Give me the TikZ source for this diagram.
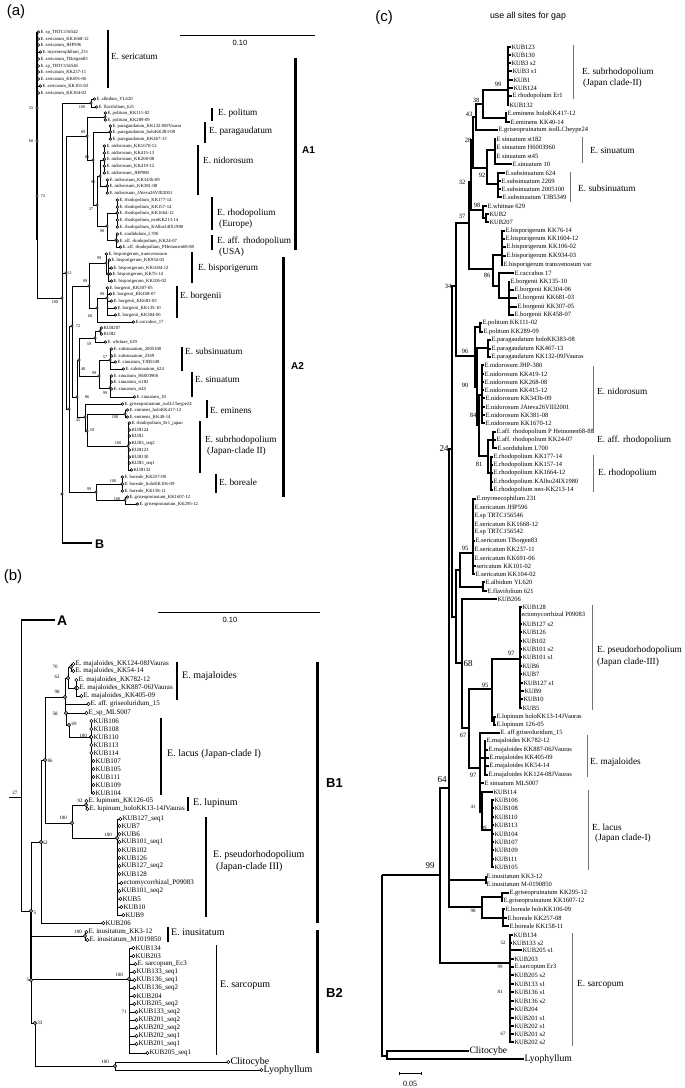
\documentclass[tikz,border=0pt]{standalone}
\usepackage{fontspec}
\setmainfont{Liberation Serif}
\setsansfont{Liberation Sans}
\newcommand\fsz[1]{\fontsize{#1}{#1}\selectfont}
\pgfdeclarelayer{fg}\pgfsetlayers{main,fg}
\tikzset{
 lfa/.style={anchor=west,inner sep=0.3pt,font=\fsz{4.7}},
 lfb/.style={anchor=west,inner sep=0.3pt,font=\fsz{7}},
 lfbig/.style={anchor=west,inner sep=0.3pt,font=\fsz{10}},
 lfc/.style={anchor=west,inner sep=0.3pt,font=\fsz{6.5}},
 bsa/.style={inner sep=0,font=\fsz{4.3}},
 bsb/.style={inner sep=0,font=\fsz{5}},
 bsc/.style={inner sep=0,font=\fsz{6.5}},
 bsd/.style={inner sep=0,font=\fsz{5}},
 bse/.style={inner sep=0,font=\fsz{9}},
 cla/.style={anchor=west,inner sep=0,font=\fsz{9.3}},
 clb/.style={anchor=west,inner sep=0,font=\fsz{10}},
 clc/.style={anchor=west,inner sep=0,font=\fsz{9.3}},
 bra/.style={line width=0.85pt},
 brc/.style={line width=1.6pt},
 dotp/.style={draw=black,fill=white,line width=0.6pt},
 cbar/.style={line width=1.1pt},
 cbarc/.style={line width=0.6pt,draw=black!55},
 gbar/.style={line width=3pt},
 plab/.style={font=\sffamily\fsz{15},inner sep=0},
 grp/.style={font=\sffamily\bfseries\fsz{10},inner sep=0,anchor=west},
 sbar/.style={line width=0.9pt},
}
\def\dotr{1.3pt}
\newcommand\EL[2]{\draw[bra] (#1) |- ([xshift=-1.6pt]#2.west);\begin{pgfonlayer}{fg}\draw[dotp] ([xshift=-1.6pt]#2.west) circle[radius=\dotr];\end{pgfonlayer}}
\newcommand\EI[2]{\draw[bra] (#1) |- (#2);\begin{pgfonlayer}{fg}\draw[dotp] (#2) circle[radius=\dotr];\end{pgfonlayer}}
\newcommand\EC[2]{\draw[brc] (#1) |- (#2);}
\newcommand\DT[1]{\begin{pgfonlayer}{fg}\draw[dotp] (#1) circle[radius=\dotr];\end{pgfonlayer}}
\begin{document}
\begin{tikzpicture}[x=1pt,y=-1pt]
\fill[white] (0,0) rectangle (685,1088);
\useasboundingbox (0,0) rectangle (685,1088);
% ================= PANEL A =================
\node[plab] (pa) at (16,12) {(a)};
\draw[sbar] (180,35) -- (315,35);
\node[inner sep=0,font=\sffamily\fsz{7.5}] (sa) at (240,43) {0.10};
% leaves
\node[lfa] (aS1) at (40,32) {E. sp\_TRTC156542};
\node[lfa] (aS2) at (40,39) {E. sericatum\_KK1668-12};
\node[lfa] (aS3) at (40,45) {E. sericatum\_JHP596};
\node[lfa] (aS4) at (42,52) {E. myrmecophilum\_231};
\node[lfa] (aS5) at (40,59) {E. sericatum\_TBorgen83};
\node[lfa] (aS6) at (40,66) {E. sp\_TRTC156546};
\node[lfa] (aS7) at (40,72) {E. sericatum\_KK237-11};
\node[lfa] (aS8) at (40,79) {E. sericatum\_KK691-06};
\node[lfa] (aS9) at (42,86) {E. sericatum\_KK101-02};
\node[lfa] (aS10) at (40,93) {E. sericatum\_KK104-02};
\node[lfa] (aAl1) at (96,99) {E. albidum\_YL620};
\node[lfa] (aAl2) at (98,107) {E. flavifolium\_621};
\node[lfa] (aPo1) at (107,113) {E. politum\_KK111-02};
\node[lfa] (aPo2) at (107,120) {E. politum\_KK289-09};
\node[lfa] (aPa1) at (112,126) {E. paragaudatum\_KK132-08JVauras};
\node[lfa] (aPa2) at (112,132) {E. paragaudatum\_holoKK383-08};
\node[lfa] (aPa3) at (112,139) {E. paragaudatum\_KK467-13};
\node[lfa] (aN1) at (106,146) {E. nidorosum\_KK1670-12};
\node[lfa] (aN2) at (106,153) {E. nidorosum\_KK415-13};
\node[lfa] (aN3) at (106,159) {E. nidorosum\_KK268-08};
\node[lfa] (aN4) at (106,166) {E. nidorosum\_KK419-12};
\node[lfa] (aN5) at (106,173) {E. nidorosum\_JHP980};
\node[lfa] (aN6) at (109,180) {E. nidorosum\_KK343b-09};
\node[lfa] (aN7) at (109,186) {E. nidorosum\_KK381-08};
\node[lfa] (aN8) at (109,193) {E. nidorosum\_JAteva26VIII2001};
\node[lfa] (aR1) at (119,200) {E. rhodopolium\_KK177-14};
\node[lfa] (aR2) at (119,207) {E. rhodopolium\_KK157-14};
\node[lfa] (aR3) at (119,213) {E. rhodopolium\_KK1664-12};
\node[lfa] (aR4) at (119,220) {E. rhodopolium\_neoKK213-14};
\node[lfa] (aR5) at (119,227) {E. rhodopolium\_KAlho24IX1980};
\node[lfa] (aF1) at (119,234) {E. sordidulum\_L700};
\node[lfa] (aF2) at (119,241) {E. aff. rhodopolium\_KK24-07};
\node[lfa] (aF3) at (122,247) {E. aff. rhodopolium\_PHeinonen68-88};
\node[lfa] (aB0) at (108,254) {E. bisporigerum\_transvenosum};
\node[lfa] (aB1) at (111,260) {E. bisporigerum\_KK934-03};
\node[lfa] (aB2) at (113,268) {E. bisporigerum\_KK1604-12};
\node[lfa] (aB3) at (112,274) {E. bisporigerum\_KK76-14};
\node[lfa] (aB4) at (113,281) {E. bisporigerum\_KK106-02};
\node[lfa] (aG1) at (109,288) {E. borgenii\_KK307-05};
\node[lfa] (aG2) at (112,294) {E. borgenii\_KK458-07};
\node[lfa] (aG3) at (113,301) {E. borgenii\_KK681-03};
\node[lfa] (aG4) at (117,308) {E. borgenii\_KK135-10};
\node[lfa] (aG5) at (117,315) {E. borgenii\_KK304-06};
\node[lfa] (aCa) at (135,322) {E.caccabus\_17};
\node[lfa] (aK1) at (103,328) {KUB207};
\node[lfa] (aK2) at (103,334) {KUB2};
\node[lfa] (aW) at (107,342) {E. whitnae\_629};
\node[lfa] (aSu1) at (113,349) {E. subsinuatum\_2005100};
\node[lfa] (aSu2) at (113,356) {E. subsinuatum\_2369};
\node[lfa] (aSu3) at (117,362) {E. sinuatum\_TJB5349};
\node[lfa] (aSu4) at (125,369) {E. subsinuatum\_624};
\node[lfa] (aSi1) at (113,376) {E. sinuatum\_H6003960};
\node[lfa] (aSi2) at (113,382) {E. sinuatum\_st182};
\node[lfa] (aSi3) at (113,389) {E. sinuatum\_st45};
\node[lfa] (aSi4) at (136,397) {E. sinuatum\_10};
\node[lfa] (aGr) at (124,404) {E. griseopruinatum\_isolLCheype24};
\node[lfa] (aE1) at (129,410) {E. eminens\_holoKK417-12};
\node[lfa] (aE2) at (129,417) {E. eminens\_KK40-14};
\node[lfa] (aJ1) at (131,423) {E. rhodopolium\_Er1\_japan};
\node[lfa] (aJ2) at (131,430) {KUB124};
\node[lfa] (aJ3) at (131,436) {KUB1};
\node[lfa] (aJ4) at (131,443) {KUB3\_seq2};
\node[lfa] (aJ5) at (131,450) {KUB123};
\node[lfa] (aJ6) at (131,457) {KUB130};
\node[lfa] (aJ7) at (131,463) {KUB3\_seq1};
\node[lfa] (aJ8) at (133,470) {KUB132};
\node[lfa] (aBo1) at (124,477) {E. boreale\_KK257-08};
\node[lfa] (aBo2) at (124,484) {E. boreale\_holoKK106-09};
\node[lfa] (aBo3) at (124,491) {E. boreale\_KK158-11};
\node[lfa] (aGp1) at (129,497) {E. griseopruinatum\_KK1607-12};
\node[lfa] (aGp2) at (139,504) {E. griseopruinatum\_KK295-12};
% internal nodes
\coordinate (aSer) at (37,298);
\coordinate (aX) at (62,298);
\coordinate (aBend) at (92,543);
\coordinate (aQ) at (62,494);
\coordinate (aAl) at (91,103);
\coordinate (a11) at (66,273);
\coordinate (a89) at (87,136);
\coordinate (aPo) at (105,117);
\coordinate (a85) at (93,160);
\coordinate (aPa) at (110,132);
\coordinate (a37) at (97,205);
\coordinate (a92) at (100,176);
\coordinate (aNa) at (104,160);
\coordinate (aNb) at (107,186);
\coordinate (a90) at (107,226);
\coordinate (aRh) at (117,213);
\coordinate (aAf) at (116,240);
\coordinate (aA2) at (69,409);
\coordinate (a72) at (72,326);
\coordinate (a99bb) at (89,286);
\coordinate (aBis) at (106,263);
\coordinate (aBisI) at (108,274);
\coordinate (a68) at (97,308);
\coordinate (aBor) at (107,298);
\coordinate (a86) at (77,397);
\coordinate (a48) at (79,360);
\coordinate (a59) at (95,338);
\coordinate (aKK) at (100,331);
\coordinate (a99s) at (99,376);
\coordinate (aSub) at (110,360);
\coordinate (aSin) at (110,388);
\coordinate (a45) at (85,417);
\coordinate (a59b) at (87,431);
\coordinate (aEm) at (125,414);
\coordinate (aJ) at (128,446);
\coordinate (a99b) at (96,492);
\coordinate (aBo) at (122,484);
\coordinate (aGp) at (125,500);
\coordinate (aD1) at (37,108);
\coordinate (aD2) at (37,141);
\coordinate (aD3) at (37,196);
% edges
\draw[line width=1.6pt] (37,32) -- (37,240);
\foreach \i in {1,...,10}{\EL{aSer}{aS\i}}
\draw[bra] (aSer) -- (aX);
\EI{aX}{aAl}\EI{aX}{a11}
\draw[bra] (aX) -- (aX|-aBend);
\draw[line width=2.8pt] (aX|-aBend) -- (aBend);
\EL{aAl}{aAl1}\EL{aAl}{aAl2}
\EI{a11}{a89}\EI{a11}{aA2}
\EI{a89}{aPo}\EI{a89}{a85}
\EL{aPo}{aPo1}\EL{aPo}{aPo2}
\EI{a85}{aPa}\EI{a85}{a37}
\foreach \i in {1,2,3}{\EL{aPa}{aPa\i}}
\EI{a37}{a92}\EI{a37}{a90}
\EI{a92}{aNa}\EI{a92}{aNb}
\foreach \i in {1,...,5}{\EL{aNa}{aN\i}}
\foreach \i in {6,7,8}{\EL{aNb}{aN\i}}
\EI{a90}{aRh}\EI{a90}{aAf}
\foreach \i in {1,...,5}{\EL{aRh}{aR\i}}
\foreach \i in {1,2,3}{\EL{aAf}{aF\i}}
\EI{aA2}{a72}\EI{aA2}{a99b}
\EI{a72}{a99bb}\EI{a72}{a86}
\EI{a99bb}{aBis}\EI{a99bb}{a68}
\EL{aBis}{aB0}\EI{aBis}{aBisI}
\foreach \i in {1,...,4}{\EL{aBisI}{aB\i}}
\EI{a68}{aBor}\EL{a68}{aCa}
\foreach \i in {1,...,5}{\EL{aBor}{aG\i}}
\EI{a86}{a48}\EI{a86}{a45}
\EI{a48}{a59}\EI{a48}{a99s}
\EI{a59}{aKK}\EL{a59}{aW}
\EL{aKK}{aK1}\EL{aKK}{aK2}
\EI{a99s}{aSub}\EI{a99s}{aSin}
\foreach \i in {1,...,4}{\EL{aSub}{aSu\i}\EL{aSin}{aSi\i}}
\EL{a45}{aGr}\EI{a45}{a59b}
\EI{a59b}{aEm}\EI{a59b}{aJ}
\EL{aEm}{aE1}\EL{aEm}{aE2}
\foreach \i in {1,...,8}{\EL{aJ}{aJ\i}}
\EI{a99b}{aBo}\EI{a99b}{aGp}
\foreach \i in {1,2,3}{\EL{aBo}{aBo\i}}
\EL{aGp}{aGp1}\EL{aGp}{aGp2}
\DT{aX}\DT{aQ}\DT{aD1}\DT{aD2}\DT{aD3}
% bootstrap a
\foreach \t/\x/\y [count=\k] in {55/31/108,60/31/141,72/43/196,100/55/302,100/82/107,11/70/273,89/83/132,85/87/157,92/93/182,37/91/209,90/102/231,99/85/281,99/99/258,68/90/316,99/102/294,72/78/326,59/89/344,48/83/369,57/105/357,99/94/373,99/105/393,86/87/397,45/78/420,100/115/417,59/92/430,100/118/443,100/113/481,99/89/489,100/117/499}
 {\node[bsa] (bsa\k) at (\x,\y) {\t};}
% clade bars a
\draw[cbar] (108,30) -- (108,88);  \node[cla] (laSer) at (111,56) {E. sericatum};
\draw[cbar] (212,108) -- (212,121); \node[cla] (laPol) at (218,113) {E. politum};
\draw[cbar] (205,122) -- (205,143); \node[cla] (laPar) at (209,131) {E. paragaudatum};
\draw[cbar] (198,145) -- (198,195); \node[cla] (laNid) at (203,160) {E. nidorosum};
\draw[cbar] (212,197) -- (212,230); \node[cla] (laRh) at (217,213) {E. rhodopolium};
\node[cla] (laRh2) at (219,224) {(Europe)};
\draw[cbar] (212,235) -- (212,250); \node[cla] (laAf) at (217,241) {E. aff. rhodopolium};
\node[cla] (laAf2) at (219,252) {(USA)};
\draw[cbar] (192,252) -- (192,283); \node[cla] (laBis) at (198,268) {E. bisporigerum};
\draw[cbar] (177,286) -- (177,318); \node[cla] (laBor) at (180,296) {E. borgenii};
\draw[cbar] (182,347) -- (182,371); \node[cla] (laSub) at (185,351) {E. subsinuatum};
\draw[cbar] (192,372) -- (192,397); \node[cla] (laSin) at (195,379) {E. sinuatum};
\draw[cbar] (207,400) -- (207,418); \node[cla] (laEm) at (210,410) {E. eminens};
\draw[cbar] (200,421) -- (200,473); \node[cla] (laSr) at (205,440) {E. subrhodopolium};
\node[cla] (laSr2) at (207,451) {(Japan-clade II)};
\draw[cbar] (216,474) -- (216,493); \node[cla] (laBo) at (219,482) {E. boreale};
\draw[gbar] (295,58) -- (295,250); \node[grp] (gA1) at (302,150) {A1};
\draw[gbar] (283,257) -- (283,497); \node[grp] (gA2) at (291,366) {A2};
\node[grp,font=\sffamily\bfseries\fsz{12.5}] (gB) at (95,544) {B};
% ================= PANEL B =================
\def\dotr{1.6pt}
\tikzset{bra/.style={line width=0.9pt}}
\node[plab] (pb) at (13,577) {(b)};
\draw[sbar] (158,612) -- (320,612);
\node[inner sep=0,font=\sffamily\fsz{7.5}] (sb) at (230,620) {0.10};
\node[lfb] (bM1) at (75,664) {E. majaloides\_KK124-08JVauras};
\node[lfb] (bM2) at (75,671) {E. majaloides\_KK54-14};
\node[lfb] (bM3) at (78,680) {E. majaloides\_KK782-12};
\node[lfb] (bM4) at (79,688) {E. majaloides\_KK887-06JVauras};
\node[lfb] (bM5) at (83,696) {E. majaloides\_KK405-09};
\node[lfb] (bGl) at (90,704) {E. aff. griseoluridum\_15};
\node[lfb] (bMl) at (88,713) {E\_sp\_MLS007};
\node[lfb] (bL1) at (93,721) {KUB106};
\node[lfb] (bL2) at (93,729) {KUB108};
\node[lfb] (bL3) at (93,737) {KUB110};
\node[lfb] (bL4) at (93,745) {KUB113};
\node[lfb] (bL5) at (93,753) {KUB114};
\node[lfb] (bL6) at (95,761) {KUB107};
\node[lfb] (bL7) at (95,769) {KUB105};
\node[lfb] (bL8) at (95,777) {KUB111};
\node[lfb] (bL9) at (95,785) {KUB109};
\node[lfb] (bL10) at (95,793) {KUB104};
\node[lfb] (bLu1) at (88,801) {E. lupinum\_KK126-05};
\node[lfb] (bLu2) at (89,809) {E. lupinum\_holoKK13-14JVauras};
\node[lfb] (bP1) at (122,819) {KUB127\_seq1};
\node[lfb] (bP2) at (121,826) {KUB7};
\node[lfb] (bP3) at (121,834) {KUB6};
\node[lfb] (bP4) at (121,842) {KUB101\_seq1};
\node[lfb] (bP5) at (121,850) {KUB102};
\node[lfb] (bP6) at (121,858) {KUB126};
\node[lfb] (bP7) at (121,866) {KUB127\_seq2};
\node[lfb] (bP8) at (121,874) {KUB128};
\node[lfb] (bP9) at (123,883) {ectomycorrhizal\_P09083};
\node[lfb] (bP10) at (121,891) {KUB101\_seq2};
\node[lfb] (bP11) at (122,899) {KUB5};
\node[lfb] (bP12) at (123,907) {KUB10};
\node[lfb] (bP13) at (125,915) {KUB9};
\node[lfb] (bK206) at (105,923) {KUB206};
\node[lfb] (bI1) at (88,932) {E. inusitatum\_KK3-12};
\node[lfb] (bI2) at (89,940) {E. inusitatum\_M1019850};
\node[lfb] (bS1) at (135,948) {KUB134};
\node[lfb] (bS2) at (135,956) {KUB203};
\node[lfb] (bS3) at (137,964) {E. sarcopum\_Ec3};
\node[lfb] (bS4) at (136,972) {KUB133\_seq1};
\node[lfb] (bS5) at (136,980) {KUB136\_seq1};
\node[lfb] (bS6) at (136,988) {KUB136\_seq2};
\node[lfb] (bS7) at (136,996) {KUB204};
\node[lfb] (bS8) at (136,1004) {KUB205\_seq2};
\node[lfb] (bS9) at (138,1012) {KUB133\_seq2};
\node[lfb] (bS10) at (138,1020) {KUB201\_seq2};
\node[lfb] (bS11) at (138,1028) {KUB202\_seq2};
\node[lfb] (bS12) at (138,1036) {KUB202\_seq1};
\node[lfb] (bS13) at (138,1044) {KUB201\_seq1};
\node[lfb] (bS14) at (149,1053) {KUB205\_seq1};
\node[lfbig] (bCl) at (230,1062) {Clitocybe};
\node[lfbig] (bLy) at (263,1070) {Lyophyllum};
\coordinate (bTop) at (21,620);
\coordinate (bAend) at (55,620);
\coordinate (bRs) at (9,797);
\coordinate (b5a) at (31,911);
\coordinate (b62) at (41,842);
\coordinate (b86) at (45,760);
\coordinate (b98) at (65,697);
\coordinate (b62m) at (68,678);
\coordinate (b70) at (71,667);
\coordinate (bMm) at (76,688);
\coordinate (b58) at (66,713);
\coordinate (b69) at (69,725);
\coordinate (bLac) at (91,737);
\coordinate (b100L) at (72,823);
\coordinate (bLu) at (86,805);
\coordinate (bPs) at (117,838);
\coordinate (bIn) at (85,936);
\coordinate (b5b) at (31,980);
\coordinate (bSar) at (129,979);
\coordinate (b33) at (35,1023);
\coordinate (bOut) at (115,1066);
\draw[line width=2.8pt] (bTop) -- (bAend);
\node[grp,font=\sffamily\bfseries\fsz{14}] (gA) at (57,621) {A};
\EI{bTop}{b5a}
\draw[bra] (bRs) -- (bRs -| bTop);
\draw[line width=1.8pt] (b5a) -- (b5b);
\EI{b5a}{b62}\EI{b5a}{bIn}\EI{b5a}{b5b}
\EI{b62}{b86}\EL{b62}{bK206}
\EI{b86}{b98}\EI{b86}{b100L}
\EI{b98}{b62m}\EL{b98}{bGl}\EI{b98}{b58}
\EI{b62m}{b70}\EI{b62m}{bMm}
\EL{b70}{bM1}\EL{b70}{bM2}
\foreach \i in {3,4,5}{\EL{bMm}{bM\i}}
\EL{b58}{bMl}\EI{b58}{b69}
\EI{b69}{bLac}
\foreach \i in {1,...,10}{\EL{bLac}{bL\i}}
\EI{b100L}{bLu}\EI{b100L}{bPs}
\EL{bLu}{bLu1}\EL{bLu}{bLu2}
\foreach \i in {1,...,13}{\EL{bPs}{bP\i}}
\EL{bIn}{bI1}\EL{bIn}{bI2}
\EI{b5b}{bSar}\EI{b5b}{b33}
\foreach \i in {1,...,14}{\EL{bSar}{bS\i}}
\EI{b33}{bOut}
\EL{bOut}{bCl}\EL{bOut}{bLy}
\foreach \t/\x/\y [count=\k] in {70/55/667,62/57/677,98/57/692,58/55/714,69/74/724,100/83/736,86/50/761,27/15/793,92/80/801,100/63/818,100/108/835,62/45/843,5/35/913,100/78/932,100/119/975,5/28/980,71/124/1012,33/40/1023,100/105/1062}
 {\node[bsb] (bsb\k) at (\x,\y) {\t};}
\draw[cbar] (177,662) -- (177,700); \node[clb] (lbMaj) at (182,676) {E. majaloides};
\draw[cbar] (161,718) -- (161,795); \node[clb] (lbLac) at (167,754) {E. lacus (Japan-clade I)};
\draw[cbar] (188,797) -- (188,811); \node[clb] (lbLup) at (193,803) {E. lupinum};
\draw[cbar] (206,817) -- (206,917); \node[clb] (lbPs) at (213,855) {E. pseudorhodopolium};
\node[clb] (lbPs2) at (216,867) {(Japan-clade III)};
\draw[cbar] (168,927) -- (168,942); \node[clb] (lbIn) at (171,932) {E. inusitatum};
\draw[line width=0.9pt] (216,945) -- (216,1055); \node[clb] (lbSar) at (220,985) {E. sarcopum};
\draw[gbar] (317,662) -- (317,923); \node[grp,font=\sffamily\bfseries\fsz{13}] (gB1) at (326,783) {B1};
\draw[gbar] (317,930) -- (317,1053); \node[grp,font=\sffamily\bfseries\fsz{13}] (gB2) at (326,993) {B2};
% ================= PANEL C =================
\node[plab] (pc) at (384,18) {(c)};
\node[inner sep=0,font=\sffamily\fsz{8.8}] (tc) at (528,16) {use all sites for gap};
\node[lfc] (cK1) at (511,47) {KUB123};
\node[lfc] (cK2) at (511,55) {KUB130};
\node[lfc] (cK3) at (511,63) {KUB3 s2};
\node[lfc] (cK4) at (512,71) {KUB3 s1};
\node[lfc] (cK5) at (513,80) {KUB1};
\node[lfc] (cK6) at (513,88) {KUB124};
\node[lfc] (cK7) at (512,96) {E rhodopolium Er1};
\node[lfc] (cK8) at (509,105) {KUB132};
\node[lfc] (cE1) at (507,113) {E.eminens holoKK417-12};
\node[lfc] (cE2) at (510,122) {E.eminens KK40-14};
\node[lfc] (cGr) at (498,130) {E.griseopruinatum isolLCheype24};
\node[lfc] (cSi1) at (496,139) {E sinuatum st182};
\node[lfc] (cSi2) at (496,147) {E sinuatum H6003960};
\node[lfc] (cSi3) at (496,156) {E sinuatum st45};
\node[lfc] (cSi4) at (512,164) {E.sinuatum 10};
\node[lfc] (cSu1) at (505,173) {E.subsinuatum 624};
\node[lfc] (cSu2) at (501,181) {E.subsinuatum 2269};
\node[lfc] (cSu3) at (501,189) {E.subsinuatum 2005100};
\node[lfc] (cSu4) at (502,197) {E.subsinuatum TJB5349};
\node[lfc] (cW) at (487,206) {E.whitnae 629};
\node[lfc] (cKa) at (489,214) {KUB2};
\node[lfc] (cKb) at (489,222) {KUB207};
\node[lfc] (cB1) at (505,231) {E.bisporigerum KK76-14};
\node[lfc] (cB2) at (505,239) {E.bisporigerum KK1604-12};
\node[lfc] (cB3) at (506,247) {E.bisporigerum KK106-02};
\node[lfc] (cB4) at (506,256) {E.bisporigerum KK934-03};
\node[lfc] (cB5) at (503,265) {E.bisporigerum transvenosum var};
\node[lfc] (cCa) at (514,273) {E.caccabus 17};
\node[lfc] (cG1) at (510,282) {E.borgenii KK135-10};
\node[lfc] (cG2) at (514,290) {E.borgenii KK304-06};
\node[lfc] (cG3) at (517,298) {E.borgenii KK681-03};
\node[lfc] (cG4) at (517,307) {E.borgenii KK307-05};
\node[lfc] (cG5) at (514,315) {E.borgenii KK458-07};
\node[lfc] (cPo1) at (482,323) {E.politum KK111-02};
\node[lfc] (cPo2) at (483,332) {E.politum KK289-09};
\node[lfc] (cPa1) at (491,340) {E.paragaudatum holoKK383-08};
\node[lfc] (cPa2) at (491,349) {E.paragaudatum KK467-13};
\node[lfc] (cPa3) at (491,357) {E.paragaudatum KK132-09JVauras};
\node[lfc] (cN1) at (484,365) {E.nidorosum JHP-380};
\node[lfc] (cN2) at (484,374) {E.nidorosum KK419-12};
\node[lfc] (cN3) at (484,382) {E.nidorosum KK268-08};
\node[lfc] (cN4) at (484,390) {E.nidorosum KK415-12};
\node[lfc] (cN5) at (485,398) {E.nidorosum KK343b-09};
\node[lfc] (cN6) at (485,407) {E.nidorosum JAteva26VIII2001};
\node[lfc] (cN7) at (485,415) {E.nidorosum KK381-08};
\node[lfc] (cN8) at (485,423) {E.nidorosum KK1670-12};
\node[lfc] (cF1) at (496,432) {E.aff. rhodopolium P Heinonen68-88};
\node[lfc] (cF2) at (496,440) {E.aff. rhodopolium KK24-07};
\node[lfc] (cF3) at (497,448) {E.sordidulum L700};
\node[lfc] (cR1) at (493,457) {E.rhodopolium KK177-14};
\node[lfc] (cR2) at (493,465) {E.rhodopolium KK157-14};
\node[lfc] (cR3) at (493,473) {E.rhodopolium KK1664-12};
\node[lfc] (cR4) at (493,482) {E.rhodopolium KAlho24IX1980};
\node[lfc] (cR5) at (493,490) {E.rhodopolium neo-KK213-14};
\node[lfc] (cS1) at (476,499) {E.myrmecophilum 231};
\node[lfc] (cS2) at (474,507) {E.sericatum JHP596};
\node[lfc] (cS3) at (474,516) {E.sp TRTC156546};
\node[lfc] (cS4) at (474,524) {E.sericatum KK1668-12};
\node[lfc] (cS5) at (474,532) {E.sp TRTC156542};
\node[lfc] (cS6) at (475,541) {E.sericatum TBorgen83};
\node[lfc] (cS7) at (474,549) {E.sericatum KK237-11};
\node[lfc] (cS8) at (474,558) {E.sericatum KK691-06};
\node[lfc] (cS9) at (476,566) {sericatum KK101-02};
\node[lfc] (cS10) at (475,574) {E.sericatum KK104-02};
\node[lfc] (cAl1) at (485,582) {E.albidum YL620};
\node[lfc] (cAl2) at (487,591) {E.flavifolium 621};
\node[lfc] (cK206) at (497,599) {KUB206};
\node[lfc] (cP1) at (522,607) {KUB128};
\node[lfc] (cP2) at (521,615) {ectomycorrhizal P09083};
\node[lfc] (cP3) at (522,624) {KUB127 s2};
\node[lfc] (cP4) at (522,632) {KUB126};
\node[lfc] (cP5) at (522,641) {KUB102};
\node[lfc] (cP6) at (522,649) {KUB101 s2};
\node[lfc] (cP7) at (522,657) {KUB101 s1};
\node[lfc] (cP8) at (522,666) {KUB6};
\node[lfc] (cP9) at (522,674) {KUB7};
\node[lfc] (cP10) at (523,683) {KUB127 s1};
\node[lfc] (cP11) at (524,691) {KUB9};
\node[lfc] (cP12) at (523,699) {KUB10};
\node[lfc] (cP13) at (522,708) {KUB5};
\node[lfc] (cLu1) at (496,717) {E.lupinum holoKK13-14JVauras};
\node[lfc] (cLu2) at (496,725) {E.lupinum 126-05};
\node[lfc] (cGl) at (500,733) {E. aff griseoluridum\_15};
\node[lfc] (cM1) at (486,741) {E.majaloides KK782-12};
\node[lfc] (cM2) at (488,750) {E.majaloides KK887-06JVauras};
\node[lfc] (cM3) at (489,758) {E.majaloides KK405-09};
\node[lfc] (cM4) at (489,766) {E.majaloides KK54-14};
\node[lfc] (cM5) at (488,775) {E.majaloides KK124-08JVauras};
\node[lfc] (cMl) at (484,783) {E sinuatum MLS007};
\node[lfc] (cL0) at (493,792) {KUB114};
\node[lfc] (cL1) at (494,800) {KUB106};
\node[lfc] (cL2) at (494,808) {KUB108};
\node[lfc] (cL3) at (494,817) {KUB110};
\node[lfc] (cL4) at (494,825) {KUB113};
\node[lfc] (cL5) at (494,834) {KUB104};
\node[lfc] (cL6) at (494,842) {KUB107};
\node[lfc] (cL7) at (494,850) {KUB109};
\node[lfc] (cL8) at (494,859) {KUB111};
\node[lfc] (cL9) at (494,867) {KUB105};
\node[lfc] (cI1) at (486,876) {E.inusitatum KK3-12};
\node[lfc] (cI2) at (486,884) {E.inusitatum M-0190850};
\node[lfc] (cGp1) at (509,893) {E.griseopruinatum KK295-12};
\node[lfc] (cGp2) at (503,901) {E.griseopruinatum KK1607-12};
\node[lfc] (cBo1) at (505,909) {E.boreale holoKK106-09};
\node[lfc] (cBo2) at (507,918) {E.boreale KK257-08};
\node[lfc] (cBo3) at (509,926) {E.boreale KK158-11};
\node[lfc] (cX1) at (513,935) {KUB134};
\node[lfc] (cX2) at (512,943) {KUB133 s2};
\node[lfc] (cX3) at (522,950) {KUB205 s1};
\node[lfc] (cX4) at (514,959) {KUB203};
\node[lfc] (cX5) at (514,967) {E.sarcopum Er3};
\node[lfc] (cX6) at (514,975) {KUB205 s2};
\node[lfc] (cX7) at (514,984) {KUB133 s1};
\node[lfc] (cX8) at (514,992) {KUB136 s1};
\node[lfc] (cX9) at (514,1001) {KUB136 s2};
\node[lfc] (cX10) at (514,1009) {KUB204};
\node[lfc] (cX11) at (514,1018) {KUB201 s1};
\node[lfc] (cX12) at (514,1026) {KUB202 s1};
\node[lfc] (cX13) at (514,1034) {KUB201 s2};
\node[lfc] (cX14) at (514,1042) {KUB202 s2};
\node[lfbig,font=\fsz{9.7}] (cCl) at (469,1051) {Clitocybe};
\node[lfbig,font=\fsz{9.7}] (cLy) at (524,1059) {Lyophyllum};
% internal c
\coordinate (cKUB) at (508,90);
\coordinate (cEm) at (506,118);
\coordinate (c38) at (483,104);
\coordinate (c43) at (476,117);
\coordinate (cSin) at (495,150);
\coordinate (cSub) at (498,184);
\coordinate (c92) at (487,168);
\coordinate (c28) at (473,140);
\coordinate (cWK) at (486,218);
\coordinate (c98) at (483,210);
\coordinate (c32) at (471,182);
\coordinate (cBis) at (502,255);
\coordinate (cBor) at (509,298);
\coordinate (cCB) at (499,286);
\coordinate (c86) at (493,269);
\coordinate (c37) at (469,223);
\coordinate (cPol) at (480,327);
\coordinate (cPara) at (488,348);
\coordinate (cNid) at (482,395);
\coordinate (cAff) at (493,440);
\coordinate (cRho) at (491,473);
\coordinate (c81) at (488,456);
\coordinate (c84) at (479,425);
\coordinate (c90) at (477,387);
\coordinate (c96) at (475,356);
\coordinate (c34) at (456,286);
\coordinate (cSer) at (473,553);
\coordinate (cAlb) at (483,587);
\coordinate (cSA) at (460,570);
\coordinate (cPs) at (520,659);
\coordinate (cLup) at (494,721);
\coordinate (c95) at (492,689);
\coordinate (cMaj) at (485,758);
\coordinate (cLac) at (492,830);
\coordinate (c41) at (482,812);
\coordinate (cM97) at (480,768);
\coordinate (c67) at (469,728);
\coordinate (c68) at (462,663);
\coordinate (cXn) at (456,617);
\coordinate (c24) at (452,449);
\coordinate (cIn) at (486,880);
\coordinate (cGp) at (502,897);
\coordinate (cBo) at (503,918);
\coordinate (cGB) at (482,907);
\coordinate (c64) at (449,788);
\coordinate (cSar) at (510,963);
\coordinate (c99) at (440,875);
\coordinate (cOut) at (387,1056);
\coordinate (cRoot) at (382,875);
\foreach \i in {1,...,8}{\EC{cKUB}{cK\i.west}}
\EC{cEm}{cE1.west}\EC{cEm}{cE2.west}
\EC{c38}{cKUB}\EC{c38}{cEm}
\EC{c43}{c38}\EC{c43}{cGr.west}
\foreach \i in {1,...,4}{\EC{cSin}{cSi\i.west}\EC{cSub}{cSu\i.west}}
\EC{c92}{cSin}\EC{c92}{cSub}
\EC{c28}{c43}\EC{c28}{c92}
\EC{cWK}{cKa.west}\EC{cWK}{cKb.west}
\EC{c98}{cW.west}\EC{c98}{cWK}
\EC{c32}{c28}\EC{c32}{c98}
\foreach \i in {1,...,5}{\EC{cBis}{cB\i.west}\EC{cBor}{cG\i.west}}
\EC{cCB}{cCa.west}\EC{cCB}{cBor}
\EC{c86}{cBis}\EC{c86}{cCB}
\EC{c37}{c32}\EC{c37}{c86}
\EC{cPol}{cPo1.west}\EC{cPol}{cPo2.west}
\foreach \i in {1,2,3}{\EC{cPara}{cPa\i.west}\EC{cAff}{cF\i.west}}
\foreach \i in {1,...,8}{\EC{cNid}{cN\i.west}}
\foreach \i in {1,...,5}{\EC{cRho}{cR\i.west}}
\EC{c81}{cAff}\EC{c81}{cRho}
\EC{c84}{cNid}\EC{c84}{c81}
\EC{c90}{cPara}\EC{c90}{c84}
\EC{c96}{cPol}\EC{c96}{c90}
\EC{c34}{c37}\EC{c34}{c96}
\foreach \i in {1,...,10}{\EC{cSer}{cS\i.west}}
\EC{cAlb}{cAl1.west}\EC{cAlb}{cAl2.west}
\EC{cSA}{cSer}\EC{cSA}{cAlb}
\foreach \i in {1,...,13}{\EC{cPs}{cP\i.west}}
\EC{cLup}{cLu1.west}\EC{cLup}{cLu2.west}
\EC{c95}{cPs}\EC{c95}{cLup}
\foreach \i in {1,...,5}{\EC{cMaj}{cM\i.west}}
\foreach \i in {1,...,9}{\EC{cLac}{cL\i.west}}
\EC{c41}{cL0.west}\EC{c41}{cLac}
\EC{cM97}{cGl.west}\EC{cM97}{cMaj}\EC{cM97}{cMl.west}\EC{cM97}{c41}
\EC{c67}{c95}\EC{c67}{cM97}
\EC{c68}{cK206.west}\EC{c68}{c67}
\EC{cXn}{cSA}\EC{cXn}{c68}
\EC{c24}{c34}\EC{c24}{cXn}
\EC{cIn}{cI1.west}\EC{cIn}{cI2.west}
\EC{cGp}{cGp1.west}\EC{cGp}{cGp2.west}
\foreach \i in {1,2,3}{\EC{cBo}{cBo\i.west}}
\EC{cGB}{cGp}\EC{cGB}{cBo}
\EC{c64}{c24}\EC{c64}{cIn}\EC{c64}{cGB}
\foreach \i in {1,...,14}{\EC{cSar}{cX\i.west}}
\EC{c99}{c64}\EC{c99}{cSar}
\EC{cOut}{cCl.west}\EC{cOut}{cLy.west}
\EC{cRoot}{c99}\EC{cRoot}{cOut}
% bootstrap c
\foreach \t/\x/\y [count=\k] in {99/498/84,38/476/100,43/469/114,28/468/140,92/482/175,32/462/182,98/477/205,37/462/216,86/487/275,34/448/286,96/465/351,90/465/385,84/473/415,81/479/464,95/465/548,97/511/653,95/485/685,67/463/735,97/473/775}
 {\node[bsc] (bsc\k) at (\x,\y) {\t};}
\foreach \t/\x/\y [count=\k] in {41/473/807,99/484/828,98/473/911,52/503/943,99/500/967,81/500/992,67/503/1034}
 {\node[bsd] (bsd\k) at (\x,\y) {\t};}
\foreach \t/\x/\y [count=\k] in {24/444/449,68/468/664,64/442/780,99/430/866}
 {\node[bse] (bse\k) at (\x,\y) {\t};}
% clade bars c
\draw[cbarc] (573,45) -- (573,99); \node[clc] (lcSr) at (582,72) {E. subrhodopolium};
\node[clc] (lcSr2) at (583,83) {(Japan clade-II)};
\draw[cbarc] (582,137) -- (582,163); \node[clc] (lcSin) at (590,150) {E. sinuatum};
\draw[cbarc] (570,172) -- (570,202); \node[clc] (lcSub) at (578,188) {E. subsinuatum};
\draw[cbarc] (593,366) -- (593,433); \node[clc] (lcNid) at (597,391) {E. nidorosum};
\node[clc] (lcAff) at (597,440) {E. aff. rhodopolium};
\draw[cbarc] (593,455) -- (593,492); \node[clc] (lcRho) at (598,473) {E. rhodopolium};
\draw[cbarc] (592,605) -- (592,710); \node[clc] (lcPs) at (597,650) {E. pseudorhodopolium};
\node[clc] (lcPs2) at (597,662) {(Japan clade-III)};
\draw[cbarc] (587,735) -- (587,777); \node[clc] (lcMaj) at (590,762) {E. majaloides};
\draw[cbarc] (588,790) -- (588,870); \node[clc] (lcLac) at (592,827) {E. lacus};
\node[clc] (lcLac2) at (595,838) {(Japan clade-I)};
\draw[cbarc] (572,933) -- (572,1046); \node[clc] (lcSar) at (577,984) {E. sarcopum};
% scale c
\coordinate (sc1) at (399,1073);
\coordinate (sc2) at (421,1073);
\draw[line width=0.8pt] (sc1) -- (sc2);
\draw[line width=0.8pt] ([yshift=-1.5pt]sc1) -- ([yshift=1.5pt]sc1);
\draw[line width=0.8pt] ([yshift=-1.5pt]sc2) -- ([yshift=1.5pt]sc2);
\node[inner sep=0,font=\fsz{8}] (scl) at (410,1084) {0.05};
\end{tikzpicture}
\end{document}
